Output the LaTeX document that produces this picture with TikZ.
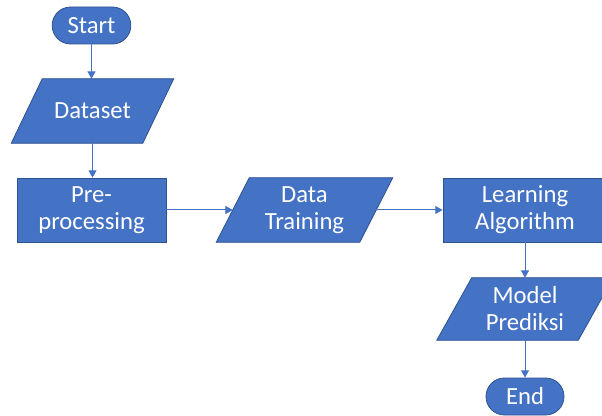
\documentclass[tikz,border=0pt]{standalone}
\usepackage{fontspec}
\setmainfont{Carlito}
\usetikzlibrary{arrows.meta,backgrounds,calc}
\definecolor{boxfill}{HTML}{4472C4}
\definecolor{boxline}{HTML}{2F528F}
\definecolor{arrowc}{HTML}{4472C4}
\begin{document}
\begin{tikzpicture}[x=0.75pt,y=-0.75pt,
  txt/.style={text=white,align=center,font=\fontsize{18.5}{20.25}\selectfont,inner sep=0pt},
  base/.style={txt,fill=boxfill,draw=boxline,line width=0.6pt},
  term/.style={base,rectangle,rounded corners=13.8pt,minimum width=59pt,minimum height=27.75pt},
  proc/.style={base,rectangle,minimum height=48pt},
  io/.style={txt,rectangle,minimum height=48pt},
  iofill/.style={fill=boxfill,draw=boxline,line width=0.6pt,line join=miter},
  arr/.style={draw=arrowc,line width=0.75pt,-{Triangle[length=5.5pt,width=6pt]}}]
\useasboundingbox (0,0) rectangle (602,416);
\node[term] (start) at (91.5,25.5) {Start};
\node[io,minimum width=98.25pt] (ds) at (92.5,111) {Dataset};
\node[proc,minimum width=111.75pt] (pre) at (91.5,210) {Pre-\\processing};
\node[io,minimum width=107.25pt] (dt) at (304.5,210) {Data\\Training};
\node[proc,minimum width=123pt] (lrn) at (525,210) {Learning\\Algorithm};
\node[io,minimum width=105.75pt,minimum height=46.5pt] (mdl) at (525,309) {Model\\Prediksi};
\node[term,minimum width=58.5pt] (end) at (525,396.5) {End};
\begin{scope}[on background layer]
\path[iofill] ($(ds.north west)+(15.5,0)$) -- ($(ds.north east)+(15.5,0)$) -- ($(ds.south east)-(15.5,0)$) -- ($(ds.south west)-(15.5,0)$) -- cycle;
\path[iofill] ($(dt.north west)+(16.5,0)$) -- ($(dt.north east)+(16.5,0)$) -- ($(dt.south east)-(16.5,0)$) -- ($(dt.south west)-(16.5,0)$) -- cycle;
\path[iofill] ($(mdl.north west)+(17.5,0)$) -- ($(mdl.north east)+(17.5,0)$) -- ($(mdl.south east)-(17.5,0)$) -- ($(mdl.south west)-(17.5,0)$) -- cycle;
\end{scope}
\draw[arr] (start.south) -- (start.south |- ds.north);
\draw[arr] (ds.south) -- (ds.south |- pre.north);
\draw[arr] (pre.east) -- (dt.west);
\draw[arr] (dt.east) -- (lrn.west);
\draw[arr] (lrn.south) -- (mdl.north);
\draw[arr] (mdl.south) -- (end.north);
\end{tikzpicture}
\end{document}
